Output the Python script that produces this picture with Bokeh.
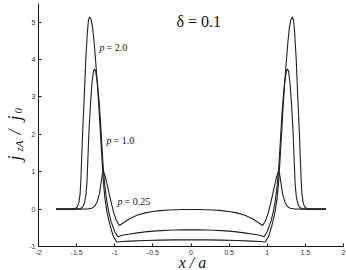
import math
from bokeh.plotting import figure
from bokeh.models import Range1d, Label, FixedTicker, LinearAxis
from bokeh.embed import file_html
from bokeh.resources import INLINE

# ---- data (x / a , j_zA / j_0) ----
x_p025 = [-1.77, -1.45, -1.36, -1.30, -1.26, -1.23, -1.20, -1.18, -1.16, -1.145, -1.125,
          -1.10, -1.07, -1.04, -1.01, -0.98, -0.94, -0.88, -0.80, -0.70, -0.60, -0.50,
          -0.40, -0.30, -0.20, -0.10, 0.0, 0.10, 0.20, 0.30, 0.40, 0.50, 0.60, 0.70,
          0.80, 0.88, 0.94, 0.98, 1.01, 1.04, 1.07, 1.10, 1.125, 1.145, 1.16, 1.18,
          1.20, 1.23, 1.26, 1.30, 1.36, 1.45, 1.77]
y_p025 = [0.0, 0.0, 0.005, 0.025, 0.08, 0.20, 0.42, 0.70, 0.97, 0.99, 0.88,
          0.66, 0.38, 0.12, -0.12, -0.30, -0.44, -0.36, -0.25, -0.16, -0.10, -0.065,
          -0.04, -0.025, -0.015, -0.01, -0.01, -0.01, -0.015, -0.025, -0.04, -0.065, -0.10, -0.16,
          -0.25, -0.36, -0.44, -0.30, -0.12, 0.12, 0.38, 0.66, 0.88, 0.99, 0.97, 0.70,
          0.42, 0.20, 0.08, 0.025, 0.005, 0.0, 0.0]

x_p10 = [-1.77, -1.50, -1.45, -1.42, -1.40, -1.38, -1.365, -1.355, -1.34, -1.32, -1.30,
         -1.28, -1.265, -1.25, -1.23, -1.21, -1.19, -1.17, -1.15, -1.13, -1.105, -1.08,
         -1.05, -1.00, -0.96, -0.90, -0.80, -0.70, -0.60, -0.50, -0.40, -0.30, -0.20,
         -0.10, 0.0, 0.10, 0.20, 0.30, 0.40, 0.50, 0.60, 0.70, 0.80, 0.90, 0.96, 1.00,
         1.05, 1.08, 1.105, 1.13, 1.15, 1.17, 1.19, 1.21, 1.23, 1.25, 1.265, 1.28, 1.30,
         1.32, 1.34, 1.355, 1.365, 1.38, 1.40, 1.42, 1.45, 1.50, 1.77]
y_p10 = [0.0, 0.0, 0.015, 0.06, 0.15, 0.35, 0.70, 1.20, 2.00, 2.75, 3.35,
         3.68, 3.75, 3.68, 3.42, 3.00, 2.45, 1.75, 1.10, 0.62, 0.22, -0.06,
         -0.32, -0.60, -0.74, -0.70, -0.665, -0.635, -0.61, -0.59, -0.575, -0.565, -0.558,
         -0.555, -0.555, -0.555, -0.558, -0.565, -0.575, -0.59, -0.61, -0.635, -0.665, -0.70, -0.74, -0.60,
         -0.32, -0.06, 0.22, 0.62, 1.10, 1.75, 2.45, 3.00, 3.42, 3.68, 3.75, 3.68, 3.35,
         2.75, 2.00, 1.20, 0.70, 0.35, 0.15, 0.06, 0.015, 0.0, 0.0]

x_p20 = [-1.77, -1.56, -1.52, -1.49, -1.47, -1.455, -1.445, -1.435, -1.42, -1.40, -1.38,
         -1.36, -1.345, -1.33, -1.31, -1.29, -1.27, -1.25, -1.23, -1.21, -1.19, -1.17,
         -1.15, -1.13, -1.10, -1.06, -1.02, -0.975, -0.90, -0.80, -0.60, -0.40, -0.20,
         0.0, 0.20, 0.40, 0.60, 0.80, 0.90, 0.975, 1.02, 1.06, 1.10, 1.13, 1.15, 1.17,
         1.19, 1.21, 1.23, 1.25, 1.27, 1.29, 1.31, 1.33, 1.345, 1.36, 1.38, 1.40, 1.42,
         1.435, 1.445, 1.455, 1.47, 1.49, 1.52, 1.56, 1.77]
y_p20 = [0.0, 0.0, 0.015, 0.06, 0.18, 0.40, 0.75, 1.30, 2.10, 3.00, 4.00,
         4.70, 5.05, 5.14, 5.07, 4.85, 4.45, 3.95, 3.40, 2.80, 2.10, 1.40,
         0.75, 0.30, -0.10, -0.45, -0.72, -0.88, -0.865, -0.855, -0.84, -0.83, -0.823,
         -0.82, -0.823, -0.83, -0.84, -0.855, -0.865, -0.88, -0.72, -0.45, -0.10, 0.30, 0.75, 1.40,
         2.10, 2.80, 3.40, 3.95, 4.45, 4.85, 5.07, 5.14, 5.05, 4.70, 4.00, 3.00, 2.10,
         1.30, 0.75, 0.40, 0.18, 0.06, 0.015, 0.0, 0.0]

x_ticks = [-2, -1.5, -1, -0.5, 0, 0.5, 1, 1.5, 2]
x_tick_labels = ["-2", "-1.5", "-1", "-0.5", "0", "0.5", "1", "1.5", "2"]
y_ticks = [-1, 0, 1, 2, 3, 4, 5]
y_tick_labels = ["-1", "0", "1", "2", "3", "4", "5"]

# ---- layout: the frame covers the whole canvas, axes sit at fixed locations ----
W, H = 346, 270
BL, BR, BT, BB = 38, 3, 3, 24          # where the axes box sits inside the canvas
X0, X1, Y0, Y1 = -2.0, 2.0, -1.0, 5.5  # axes limits
fw = W - BL - BR
fh = H - BT - BB
sx = (X1 - X0) / fw
sy = (Y1 - Y0) / fh

p = figure(width=W, height=H, output_backend="svg", toolbar_location=None,
           x_range=Range1d(X0 - BL * sx, X1 + BR * sx),
           y_range=Range1d(Y0 - BB * sy, Y1 + BT * sy),
           x_axis_location=None, y_axis_location=None, min_border=0)
p.outline_line_color = None
p.grid.visible = False
p.background_fill_color = "white"
p.border_fill_color = "white"

xaxis = LinearAxis(fixed_location=Y0, bounds=(X0, X1), ticker=FixedTicker(ticks=x_ticks))
yaxis = LinearAxis(fixed_location=X0, bounds=(Y0, Y1), ticker=FixedTicker(ticks=y_ticks))
xaxis.major_label_overrides = {t: s for t, s in zip(x_ticks, x_tick_labels)}
yaxis.major_label_overrides = {t: s for t, s in zip(y_ticks, y_tick_labels)}
for ax in (xaxis, yaxis):
    ax.major_tick_in = 3
    ax.major_tick_out = 0
    ax.minor_tick_line_color = None
    ax.axis_line_color = "#111111"
    ax.major_tick_line_color = "#111111"
    ax.major_label_text_font = "Liberation Sans"
    ax.major_label_text_font_size = "7px"
    ax.major_label_text_color = "#333333"
    ax.major_label_standoff = 3
p.add_layout(xaxis, "below")
p.add_layout(yaxis, "left")

for xs, ys in ((x_p025, y_p025), (x_p10, y_p10), (x_p20, y_p20)):
    p.line(xs, ys, line_color="#1e1e1e", line_width=1.1)

def dx(px):
    return X0 + (px - BL) * sx
def dy(py):
    return Y1 - (py - BT) * sy

SERIF = "Liberation Serif"
def lab(px, py, text, size, style="normal", align="left", baseline="alphabetic", angle=0.0):
    p.add_layout(Label(x=dx(px), y=dy(py), text=text, text_font=SERIF,
                       text_font_size=f"{size}px", text_font_style=style,
                       text_align=align, text_baseline=baseline, text_color="#111111",
                       angle=angle, angle_units="rad"))

# delta annotation
lab(176, 21, "\u03b4 = 0.1", 16)
# curve labels
lab(99, 47, "p", 10, "italic")
lab(106, 47, "= 2.0", 10)
lab(106, 140, "p", 10, "italic")
lab(113, 140, "= 1.0", 10)
lab(117, 201, "p", 10, "italic")
lab(124, 201, "= 0.25", 10)

# x axis label
lab(192, 262, "x / a", 16, "italic", align="center", baseline="middle")

# y axis label (rotated, with subscripts)
A = math.pi / 2
lab(14, 160, "j", 18, "italic", angle=A)
lab(18, 151, "zA", 11, "italic", angle=A)
lab(14, 134, "/", 18, "italic", angle=A)
lab(14, 120, "j", 18, "italic", angle=A)
lab(18, 113, "0", 11, "italic", angle=A)

open("out.html", "w").write(file_html(p, INLINE))
